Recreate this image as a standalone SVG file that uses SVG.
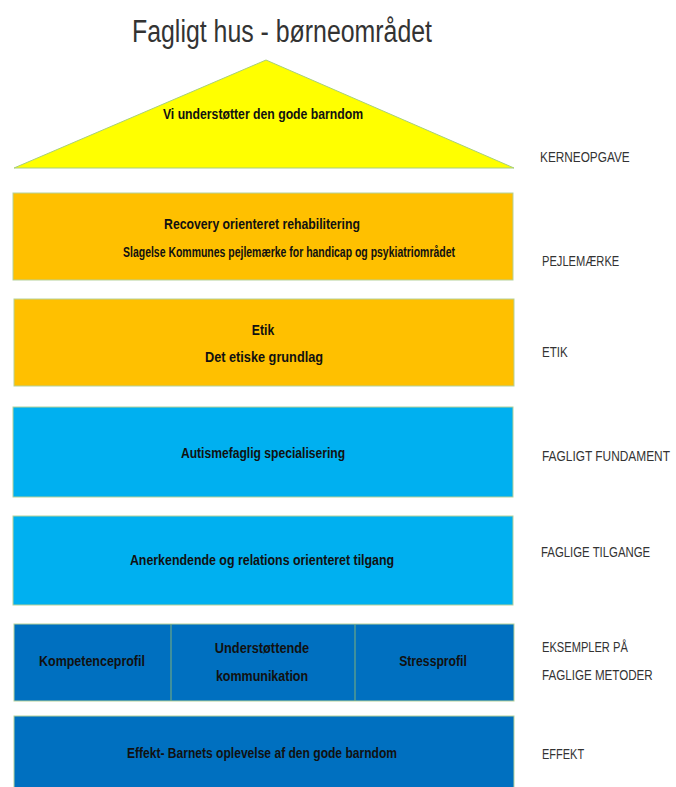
<svg xmlns="http://www.w3.org/2000/svg" width="676" height="787" viewBox="0 0 676 787">
<style>
.t{font-family:"Liberation Sans",Arial,sans-serif;font-weight:bold;font-size:15px;fill:#111;text-anchor:middle}
.l{font-family:"Liberation Sans",Arial,sans-serif;font-size:15px;fill:#333}
.box{stroke:#b5d19a;stroke-width:1}
.or{fill:#FFC000}.cy{fill:#00B0F0}.bl{fill:#0070C0}
</style>
<rect width="676" height="787" fill="#fff"/>
<text transform="translate(282,42) scale(0.8,1)" font-family="'Liberation Sans',Arial,sans-serif" font-size="31" fill="#333" text-anchor="middle" textLength="375" lengthAdjust="spacingAndGlyphs">Fagligt hus - børneområdet</text>
<g id="roof">
<polygon points="266,60 14,168 514,168" fill="#FFFF00" stroke="#a8cf7a" stroke-width="1"/>
<text class="t" transform="translate(263,119) scale(0.72,1)" textLength="278" lengthAdjust="spacingAndGlyphs">Vi understøtter den gode barndom</text>
</g>
<g id="pejlemaerke">
<rect class="box or" x="13" y="193" width="500" height="87"/>
<text class="t" transform="translate(262,229) scale(0.72,1)" textLength="272" lengthAdjust="spacingAndGlyphs">Recovery orienteret rehabilitering</text>
<text class="t" transform="translate(289,257) scale(0.72,1)" textLength="461" lengthAdjust="spacingAndGlyphs">Slagelse Kommunes pejlemærke for handicap og psykiatriområdet</text>
</g>
<g id="etik">
<rect class="box or" x="14" y="299" width="500" height="87"/>
<text class="t" transform="translate(263,335) scale(0.72,1)" textLength="31" lengthAdjust="spacingAndGlyphs">Etik</text>
<text class="t" transform="translate(264,362) scale(0.72,1)" textLength="164" lengthAdjust="spacingAndGlyphs">Det etiske grundlag</text>
</g>
<g id="fundament">
<rect class="box cy" x="13" y="407" width="500" height="90"/>
<text class="t" transform="translate(263,458) scale(0.72,1)" textLength="228" lengthAdjust="spacingAndGlyphs">Autismefaglig specialisering</text>
</g>
<g id="tilgange">
<rect class="box cy" x="13" y="516" width="500" height="89"/>
<text class="t" transform="translate(262,565) scale(0.72,1)" textLength="367" lengthAdjust="spacingAndGlyphs">Anerkendende og relations orienteret tilgang</text>
</g>
<g id="metoder">
<rect class="box bl" x="14" y="624" width="500" height="77"/>
<line x1="171" y1="624" x2="171" y2="701" stroke="#7fb07a" stroke-width="1"/>
<line x1="355" y1="624" x2="355" y2="701" stroke="#7fb07a" stroke-width="1"/>
<text class="t" transform="translate(92,666) scale(0.72,1)" textLength="147" lengthAdjust="spacingAndGlyphs">Kompetenceprofil</text>
<text class="t" transform="translate(262,653) scale(0.72,1)" textLength="131" lengthAdjust="spacingAndGlyphs">Understøttende</text>
<text class="t" transform="translate(262,681) scale(0.72,1)" textLength="128" lengthAdjust="spacingAndGlyphs">kommunikation</text>
<text class="t" transform="translate(433,666) scale(0.72,1)" textLength="94" lengthAdjust="spacingAndGlyphs">Stressprofil</text>
</g>
<g id="effekt">
<rect class="box bl" x="14" y="716" width="500" height="75"/>
<text class="t" transform="translate(262,758) scale(0.72,1)" textLength="375" lengthAdjust="spacingAndGlyphs">Effekt- Barnets oplevelse af den gode barndom</text>
</g>
<g id="labels">
<text class="l" transform="translate(540,162) scale(0.78,1)" textLength="115" lengthAdjust="spacingAndGlyphs">KERNEOPGAVE</text>
<text class="l" transform="translate(542,266) scale(0.78,1)" textLength="99" lengthAdjust="spacingAndGlyphs">PEJLEMÆRKE</text>
<text class="l" transform="translate(542,357) scale(0.78,1)" textLength="33" lengthAdjust="spacingAndGlyphs">ETIK</text>
<text class="l" transform="translate(542,461) scale(0.78,1)" textLength="164" lengthAdjust="spacingAndGlyphs">FAGLIGT FUNDAMENT</text>
<text class="l" transform="translate(541,557) scale(0.78,1)" textLength="140" lengthAdjust="spacingAndGlyphs">FAGLIGE TILGANGE</text>
<text class="l" transform="translate(542,652) scale(0.78,1)" textLength="110" lengthAdjust="spacingAndGlyphs">EKSEMPLER PÅ</text>
<text class="l" transform="translate(542,680) scale(0.78,1)" textLength="142" lengthAdjust="spacingAndGlyphs">FAGLIGE METODER</text>
<text class="l" transform="translate(542,759) scale(0.78,1)" textLength="54" lengthAdjust="spacingAndGlyphs">EFFEKT</text>
</g>
<g id="connectors"></g>
</svg>
